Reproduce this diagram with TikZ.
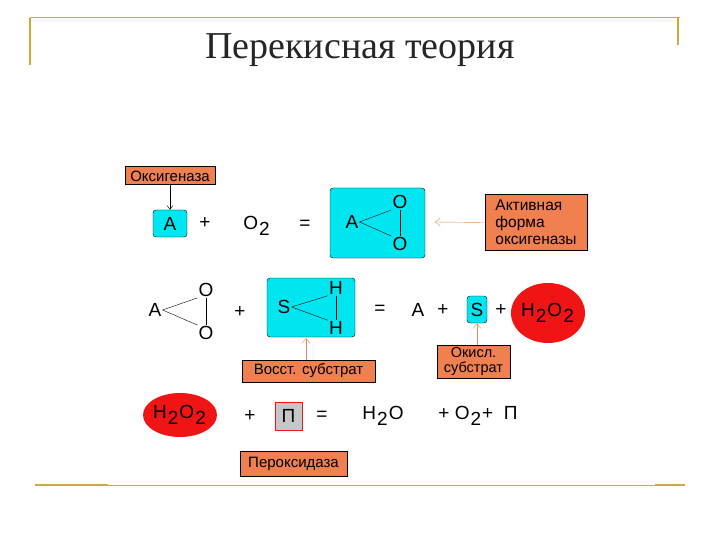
\documentclass[tikz,border=0pt]{standalone}
\usepackage{fontspec}
\usetikzlibrary{shapes.geometric,arrows.meta}
\setmainfont{Liberation Sans}
\newfontfamily\serif{Liberation Serif}
\definecolor{gold}{RGB}{204,170,60}
\definecolor{lab}{RGB}{240,128,80}
\definecolor{arr}{RGB}{230,140,90}
\definecolor{cy}{RGB}{0,230,240}
\definecolor{rd}{RGB}{240,20,20}
\newcommand{\lo}[1]{\kern1pt\raisebox{-0.6ex}{#1}\kern1pt}
\begin{document}
\begin{tikzpicture}[x=1pt,y=-1pt,
  labelbox/.style={draw=black,line width=1pt,fill=lab,font=\fontsize{15}{16}\selectfont,inner sep=1pt},
  cybox/.style={draw=black,fill=cy,rounded corners=3pt},
  f/.style={font=\fontsize{19}{20}\selectfont,inner sep=1pt},
  bond/.style={thin},
  oarr/.style={draw=arr,-{Straight Barb[length=5pt,width=8pt]},thin}]
\useasboundingbox (0,0) rectangle (720,540);
% frame
\draw[gold,line width=1pt] (30,18) -- (680,18);
\draw[gold,line width=1.5pt] (30,18) -- (30,65);
\draw[gold,line width=1.5pt] (678,18) -- (678,45);
\draw[gold,line width=1.5pt] (35,485) -- (108,485);
\draw[gold,line width=0.5pt] (108,485) -- (655,485);
\draw[gold,line width=1.5pt] (655,485) -- (685,485);
\node[font=\serif\fontsize{38}{40}\selectfont,text=black!85] (title) at (360,50) {Перекисная теория};
% row 1
\node[labelbox,minimum width=90pt,minimum height=18pt] (oxg) at (170,176) {Оксигеназа};
\node[cybox,minimum width=34pt,minimum height=27pt,f] (a1) at (170,223.5) {A};
\draw[-{Straight Barb[length=4pt,width=6pt]}] (oxg.south -| a1) -- (a1.north);
\node[f] (p1) at (205,223) {+};
\node[f] (o2a) at (257,226) {O\lo{2}};
\node[f] (e1) at (305,225) {=};
\node[cybox,minimum width=95pt,minimum height=70pt] (big) at (377.5,223) {};
\node[f] (ba) at (352,222) {A};
\node[f] (bo1) at (400,202) {O};
\node[f] (bo2) at (400,244) {O};
\draw[bond] (ba.east) -- (bo1.south west);
\draw[bond] (ba.east) -- (bo2.north west);
\draw[bond] (bo1.south) -- (bo2.north);
\node[labelbox,minimum width=102pt,minimum height=55pt,align=left,font=\fontsize{15.5}{17}\selectfont] (akt) at (536,222.5) {Активная\\форма\\оксигеназы};
\draw[oarr] (akt.west) -- (435,222);
% row 2
\node[f] (ra) at (155,310) {A};
\node[f] (ro1) at (206,290) {O};
\node[f] (ro2) at (206,333) {O};
\draw[bond] (ra.east) -- (ro1.south west);
\draw[bond] (ra.east) -- (ro2.north west);
\draw[bond] (ro1.south) -- (ro2.north);
\node[f] (p2) at (240,312) {+};
\node[cybox,minimum width=88pt,minimum height=59pt] (sh) at (311,307.5) {};
\node[f] (ss) at (284,307) {S};
\node[f] (h1) at (336,288) {H};
\node[f] (h2) at (336,328) {H};
\draw[bond] (ss.east) -- (h1.south west);
\draw[bond] (ss.east) -- (h2.north west);
\draw[bond] (h1.south) -- (h2.north);
\node[f] (e2) at (380,310) {=};
\node[f] (a2) at (418,310) {A};
\node[f] (p3) at (443,310) {+};
\node[cybox,minimum width=20pt,minimum height=27pt,f] (s2) at (477,309.5) {S};
\node[f] (p4) at (501,310) {+};
\node[ellipse,fill=rd,minimum width=74pt,minimum height=60pt,inner sep=0pt] (h2o2a) at (548,313) {};
\node[f] at (h2o2a) {H\lo{2}O\lo{2}};
\node[labelbox,minimum width=133pt,minimum height=22pt] (vs) at (308.5,371) {Восст. субстрат};
\draw[oarr] (vs.north -| 306,0) -- (306,338);
\node[labelbox,minimum width=73pt,minimum height=33pt,align=center,font=\fontsize{14.5}{15}\selectfont] (os) at (473.5,361.5) {Окисл.\\субстрат};
\draw[oarr] (os.north -| s2) -- (s2.south);
% row 3
\node[ellipse,fill=rd,minimum width=74pt,minimum height=44pt,inner sep=0pt] (h2o2b) at (180,415) {};
\node[f] at (h2o2b) {H\lo{2}O\lo{2}};
\node[f] (p5) at (250,416) {+};
\node[draw=rd,fill=gray!45,minimum width=27pt,minimum height=28pt,f] (pp) at (288.5,416) {П};
\node[f] (e3) at (322,416) {=};
\node[f] (h2o) at (383,416) {H\lo{2}O};
\node[f] (rest) at (478,416) {+ O\lo{2} +\ \ П};
\node[labelbox,minimum width=107pt,minimum height=25pt] (prx) at (293.5,463.5) {Пероксидаза};
\end{tikzpicture}
\end{document}
